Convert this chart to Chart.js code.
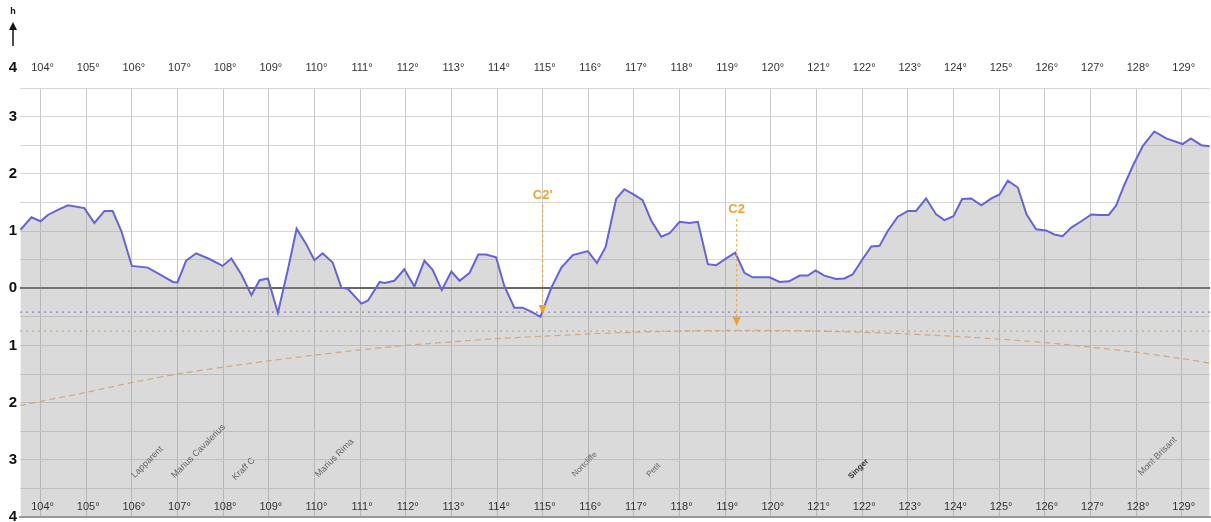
<!DOCTYPE html>
<html lang="en">
<head>
  <meta charset="UTF-8">
  <title>Elevation profile</title>
  <style>
    body { margin: 0; background: #fff; font-family: Arial, sans-serif; }
    #wrap { width: 1211px; height: 522px; position: relative; }
  </style>
  <script src="https://cdn.jsdelivr.net/npm/chart.js"></script>
</head>
<body>
  <div id="wrap"><canvas id="profile"></canvas></div>

  <script>
    // longitude (deg) and height (km) along the profile
    const profLon = [103.56, 103.8, 104.0, 104.16, 104.38, 104.6, 104.96, 105.18, 105.4, 105.58,
      105.77, 106.0, 106.35, 106.64, 106.9, 107.0, 107.19, 107.41, 107.7, 107.99,
      108.18, 108.4, 108.62, 108.8, 108.98, 109.2, 109.42, 109.61, 109.82, 110.0,
      110.18, 110.4, 110.59, 110.73, 111.03, 111.17, 111.43, 111.54, 111.75, 111.97,
      112.19, 112.41, 112.59, 112.79, 113.0, 113.18, 113.4, 113.59, 113.76, 113.98,
      114.16, 114.38, 114.56, 114.75, 114.95, 115.19, 115.41, 115.66, 115.99, 116.19,
      116.38, 116.61, 116.79, 117.01, 117.19, 117.38, 117.6, 117.78, 118.0, 118.22,
      118.4, 118.62, 118.8, 119.02, 119.22, 119.42, 119.6, 119.97, 120.19, 120.4,
      120.63, 120.81, 120.98, 121.17, 121.43, 121.61, 121.79, 122.01, 122.2, 122.38,
      122.56, 122.78, 123.0, 123.18, 123.4, 123.62, 123.8, 124.0, 124.19, 124.39,
      124.61, 124.83, 125.01, 125.19, 125.41, 125.6, 125.81, 126.03, 126.21, 126.39,
      126.58, 126.8, 127.02, 127.2, 127.4, 127.56, 127.74, 127.93, 128.15, 128.4,
      128.66, 129.02, 129.2, 129.43, 129.61];
    const profAlt = [1.02, 1.24, 1.17, 1.28, 1.37, 1.45, 1.40, 1.14, 1.35, 1.35,
      1.0, 0.39, 0.36, 0.23, 0.11, 0.1, 0.48, 0.61, 0.51, 0.39,
      0.52, 0.24, -0.12, 0.14, 0.17, -0.43, 0.33, 1.04, 0.77, 0.49,
      0.61, 0.45, 0.01, -0.01, -0.27, -0.22, 0.11, 0.09, 0.13, 0.33,
      0.03, 0.48, 0.32, -0.03, 0.29, 0.13, 0.27, 0.59, 0.59, 0.54,
      0.04, -0.34, -0.34, -0.41, -0.5, 0.01, 0.36, 0.58, 0.65, 0.44,
      0.72, 1.56, 1.73, 1.63, 1.54, 1.18, 0.9, 0.96, 1.16, 1.14,
      1.16, 0.42, 0.4, 0.52, 0.62, 0.27, 0.19, 0.19, 0.11, 0.12,
      0.22, 0.22, 0.31, 0.22, 0.16, 0.17, 0.24, 0.51, 0.73, 0.74,
      1.0, 1.25, 1.35, 1.35, 1.57, 1.29, 1.19, 1.26, 1.56, 1.57,
      1.45, 1.57, 1.64, 1.88, 1.76, 1.29, 1.03, 1.01, 0.94, 0.91,
      1.06, 1.17, 1.29, 1.28, 1.28, 1.44, 1.8, 2.14, 2.49, 2.74,
      2.62, 2.52, 2.62, 2.5, 2.48];

    // curved horizon line (dashed orange)
    const curveLon = [103.55, 105, 106, 107, 108, 109, 110, 111, 112, 113, 114, 115, 116, 117, 118,
      119, 120, 121, 122, 123, 124, 125, 126, 127, 128, 129, 129.62];
    const curveAlt = [-2.05, -1.82, -1.65, -1.5, -1.38, -1.27, -1.17, -1.08, -1.0, -0.94, -0.88, -0.84, -0.8, -0.77, -0.75,
      -0.74, -0.74, -0.75, -0.77, -0.8, -0.84, -0.89, -0.95, -1.03, -1.12, -1.23, -1.31];

    const lonMin = 103.55;
    const lonMax = 129.62;
    const blueLevel = -0.42;
    const orangeLevel = -0.75;

    const lonTicks = [104, 105, 106, 107, 108, 109, 110, 111, 112, 113, 114, 115, 116,
      117, 118, 119, 120, 121, 122, 123, 124, 125, 126, 127, 128, 129];

    // contact markers: label, longitude, label height, arrow tip height
    const markerNames = ["C2'", 'C2'];
    const markerLon = [115.0, 119.25];
    const markerTextAlt = [1.63, 1.38];
    const markerTipAlt = [-0.45, -0.66];

    // feature names along the bottom
    const featNames = ['Lapparent', 'Marius Cavalerius', 'Kraff C', 'Marius Rima',
      'Nortcliffe', 'Petit', 'Singer', 'Mont Brisant'];
    const featLon = [106.34, 107.46, 108.45, 110.44, 115.92, 117.43, 121.92, 128.47];
    const featAlt = [-3.04, -2.85, -3.16, -2.97, -3.08, -3.18, -3.16, -2.94];
    const featSize = [9, 9, 9, 9, 8, 8, 8, 9];

    const pts = (xs, ys) => xs.map((x, i) => ({ x: x, y: ys[i] }));

    const overlay = {
      id: 'overlay',
      afterDatasetsDraw(chart) {
        const ctx = chart.ctx;
        const xs = chart.scales.x;
        const ys = chart.scales.y;
        const area = chart.chartArea;
        ctx.save();

        // longitude labels at top and bottom
        ctx.font = '11px Arial';
        ctx.fillStyle = '#333';
        ctx.textAlign = 'center';
        ctx.textBaseline = 'middle';
        lonTicks.forEach(t => {
          const px = xs.getPixelForValue(t);
          ctx.fillText(t + '°', px + 2, 68);
          ctx.fillText(t + '°', px + 2, area.bottom - 10);
        });

        // top "4" and the height arrow
        ctx.font = 'bold 15px Arial';
        ctx.fillStyle = '#111';
        ctx.textAlign = 'right';
        ctx.fillText('4', 17, 68);
        ctx.font = 'bold 9px Arial';
        ctx.textAlign = 'center';
        ctx.fillText('h', 13, 12);
        ctx.strokeStyle = '#111';
        ctx.lineWidth = 1.5;
        ctx.beginPath();
        ctx.moveTo(13, 46);
        ctx.lineTo(13, 27);
        ctx.stroke();
        ctx.beginPath();
        ctx.moveTo(9, 30);
        ctx.lineTo(13, 22);
        ctx.lineTo(17, 30);
        ctx.closePath();
        ctx.fill();

        // contact markers
        markerNames.forEach((name, i) => {
          const px = xs.getPixelForValue(markerLon[i]);
          const ty = ys.getPixelForValue(markerTextAlt[i]);
          const tip = ys.getPixelForValue(markerTipAlt[i]);
          ctx.fillStyle = '#f0a030';
          ctx.font = 'bold 13px Arial';
          ctx.textAlign = 'center';
          ctx.fillText(name, px, ty);
          ctx.strokeStyle = '#f0a030';
          ctx.lineWidth = 1.2;
          ctx.setLineDash([2, 3]);
          ctx.beginPath();
          ctx.moveTo(px, ty + 10);
          ctx.lineTo(px, tip - 7);
          ctx.stroke();
          ctx.setLineDash([]);
          ctx.beginPath();
          ctx.moveTo(px - 4, tip - 9);
          ctx.lineTo(px + 4, tip - 9);
          ctx.lineTo(px, tip);
          ctx.closePath();
          ctx.fill();
        });

        // feature names, slanted
        featNames.forEach((name, i) => {
          const px = xs.getPixelForValue(featLon[i]);
          const py = ys.getPixelForValue(featAlt[i]);
          ctx.save();
          ctx.translate(px, py);
          ctx.rotate(-Math.PI / 4);
          ctx.font = (name === 'Singer' ? 'bold ' : '') + featSize[i] + 'px Arial';
          ctx.fillStyle = name === 'Singer' ? '#333' : '#666';
          ctx.textAlign = 'center';
          ctx.textBaseline = 'middle';
          ctx.fillText(name, 0, 0);
          ctx.restore();
        });

        ctx.restore();
      }
    };

    new Chart(document.getElementById('profile'), {
      type: 'line',
      data: {
        datasets: [
          {
            data: pts(profLon, profAlt),
            borderColor: '#6464d4',
            borderWidth: 2,
            backgroundColor: 'rgba(150,150,150,0.35)',
            fill: 'start',
            pointRadius: 0,
            tension: 0,
            order: 1
          },
          {
            data: pts(curveLon, curveAlt),
            borderColor: 'rgba(240,170,100,0.85)',
            borderWidth: 1.3,
            borderDash: [6, 4],
            fill: false,
            pointRadius: 0,
            tension: 0.3,
            order: 3
          },
          {
            data: pts([lonMin, lonMax], [blueLevel, blueLevel]),
            borderColor: '#7b7be0',
            borderWidth: 1.3,
            borderDash: [2, 4],
            fill: false,
            pointRadius: 0,
            order: 2
          },
          {
            data: pts([lonMin, lonMax], [orangeLevel, orangeLevel]),
            borderColor: '#e8b070',
            borderWidth: 1.3,
            borderDash: [2, 4],
            fill: false,
            pointRadius: 0,
            order: 2
          }
        ]
      },
      options: {
        responsive: true,
        maintainAspectRatio: false,
        animation: false,
        layout: { padding: { top: 88, right: 1, bottom: 5, left: 0 } },
        plugins: { legend: { display: false }, tooltip: { enabled: false } },
        scales: {
          x: {
            type: 'linear',
            min: lonMin,
            max: lonMax,
            afterBuildTicks: s => { s.ticks = lonTicks.map(v => ({ value: v })); },
            afterFit: s => { s.height = 0; },
            ticks: { display: false },
            grid: { color: '#c8c8c8', lineWidth: 1, drawTicks: false },
            border: { color: '#999', width: 2 }
          },
          y: {
            min: -4,
            max: 3.5,
            // fixed width, and no extra room reserved for the end labels
            afterFit: s => {
              s.width = 20;
              s.paddingTop = 0;
              s.paddingBottom = 0;
            },
            ticks: {
              stepSize: 0.5,
              padding: 3,
              color: '#111',
              font: { family: 'Arial', size: 15, weight: 'bold' },
              callback: v => Number.isInteger(v) ? String(Math.abs(v)) : ''
            },
            grid: {
              drawTicks: false,
              color: c => c.tick.value === 0 ? '#666' : '#d6d6d6',
              lineWidth: c => c.tick.value === 0 ? 2 : 1
            },
            border: { display: false }
          }
        }
      },
      plugins: [overlay]
    });
  </script>
</body>
</html>
